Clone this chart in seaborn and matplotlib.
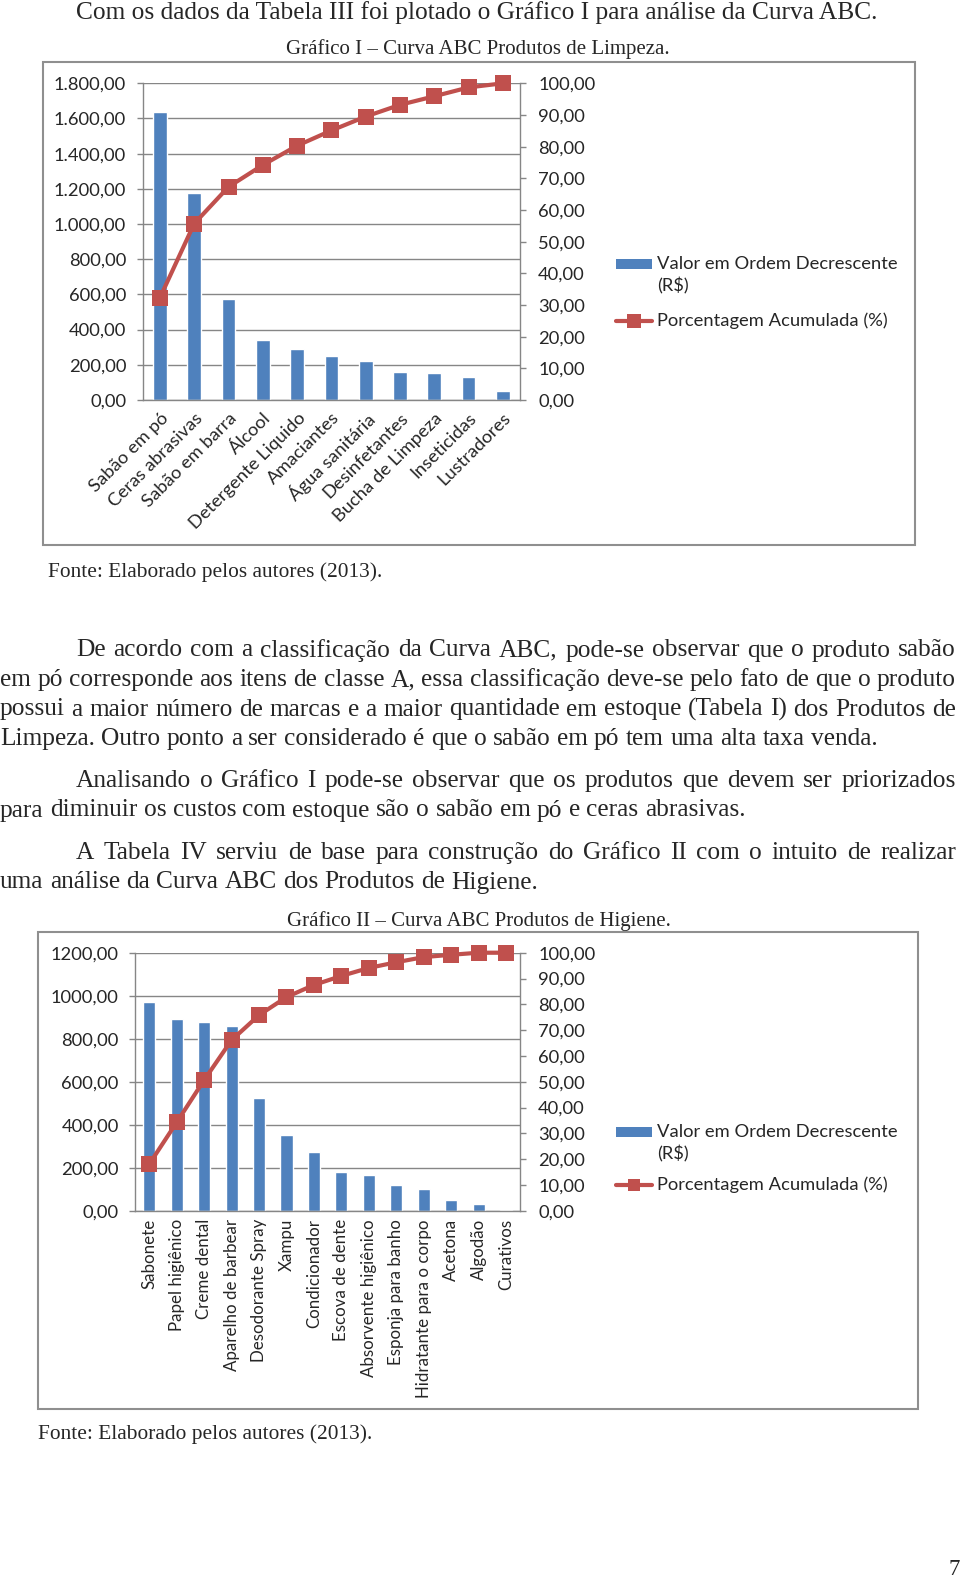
import numpy as np
import pandas as pd
import matplotlib
matplotlib.use("Agg")
import matplotlib.pyplot as plt
import seaborn as sns
from matplotlib.patches import Rectangle
from matplotlib.lines import Line2D

# ---------------- data ----------------
limpeza_produtos = ["Sabão em pó", "Ceras abrasivas", "Sabão em barra", "Álcool",
                    "Detergente Liquido", "Amaciantes", "Água sanitária", "Desinfetantes",
                    "Bucha de Limpeza", "Inseticidas", "Lustradores"]
limpeza_valor = [1635, 1178, 576, 339, 288, 250, 222, 157, 152, 129, 51]
limpeza_pct = [32.3, 55.7, 67.3, 74.2, 80.3, 85.1, 89.5, 93.2, 95.9, 98.7, 100.0]
limpeza_yticks = [0, 200, 400, 600, 800, 1000, 1200, 1400, 1600, 1800]
limpeza_yticklabels = ["0,00", "200,00", "400,00", "600,00", "800,00", "1.000,00",
                       "1.200,00", "1.400,00", "1.600,00", "1.800,00"]

higiene_produtos = ["Sabonete", "Papel higiênico", "Creme dental", "Aparelho de barbear",
                    "Desodorante Spray", "Xampu", "Condicionador", "Escova de dente",
                    "Absorvente higiênico", "Esponja para banho", "Hidratante para o corpo",
                    "Acetona", "Algodão", "Curativos"]
higiene_valor = [972, 891, 876, 859, 526, 353, 274, 181, 167, 121, 102, 51, 33, 4]
higiene_pct = [18.0, 34.2, 50.6, 66.1, 75.8, 82.8, 87.5, 91.0, 94.1, 96.3, 98.3, 99.2, 100.0, 100.0]
higiene_yticks = [0, 200, 400, 600, 800, 1000, 1200]
higiene_yticklabels = ["0,00", "200,00", "400,00", "600,00", "800,00", "1000,00", "1200,00"]

pct_ticks = [0, 10, 20, 30, 40, 50, 60, 70, 80, 90, 100]
pct_ticklabels = ["0,00", "10,00", "20,00", "30,00", "40,00", "50,00", "60,00",
                  "70,00", "80,00", "90,00", "100,00"]

legend_labels = ["Valor em Ordem Decrescente", "(R\\$)", "Porcentagem Acumulada (%)"]

intro_text = "Com os dados da Tabela III foi plotado o Gráfico I para análise da Curva ABC."
caption1 = "Gráfico I – Curva ABC Produtos de Limpeza."
caption2 = "Gráfico II – Curva ABC Produtos de Higiene."
fonte = "Fonte: Elaborado pelos autores (2013)."
paragraphs = [
    ["De acordo com a classificação da Curva ABC, pode-se observar que o produto sabão",
     "em pó corresponde aos itens de classe A, essa classificação deve-se pelo fato de que o produto",
     "possui a maior número de marcas e a maior quantidade em estoque (Tabela I) dos Produtos de",
     "Limpeza. Outro ponto a ser considerado é que o sabão em pó tem uma alta taxa venda."],
    ["Analisando o Gráfico I pode-se observar que os produtos que devem ser priorizados",
     "para diminuir os custos com estoque são o sabão em pó e ceras abrasivas."],
    ["A Tabela IV serviu de base para construção do Gráfico II com o intuito de realizar",
     "uma análise da Curva ABC dos Produtos de Higiene."],
]
page_number = "7"

# ---------------- style ----------------
sns.set_theme(style="white")
SERIF = ["Liberation Serif", "DejaVu Serif"]
SANS = ["Lato", "DejaVu Sans"]
plt.rcParams["font.family"] = SANS

BLUE = "#4F81BD"
RED = "#C0504D"
GRAY = "#868686"

W, H = 960, 1592
fig = plt.figure(figsize=(W / 100, H / 100), dpi=100)
fig.patch.set_facecolor("white")
renderer = fig.canvas.get_renderer()


def fx(px):
    return px / W


def fy(py):
    return 1 - py / H


def measure(s, family, size):
    t = fig.text(0, 0, s, fontsize=size, family=family)
    w = t.get_window_extent(renderer).width
    t.remove()
    return w


def fit_size(s, family, target_px):
    return 10 * target_px / measure(s, family, 10)


body_size = fit_size(intro_text, SERIF, 802)
cap_size = fit_size(caption1, SERIF, 383)
fonte_size = fit_size(fonte, SERIF, 332)
chart_size = fit_size(legend_labels[2], SANS, 230)

# ---------------- page text ----------------
fig.text(fx(76), fy(19), intro_text, fontsize=body_size, family=SERIF, va="baseline", ha="left")
fig.text(fx(478), fy(54), caption1, fontsize=cap_size, family=SERIF, va="baseline", ha="center")
fig.text(fx(48), fy(577), fonte, fontsize=fonte_size, family=SERIF, va="baseline", ha="left")
fig.text(fx(479), fy(926), caption2, fontsize=cap_size, family=SERIF, va="baseline", ha="center")
fig.text(fx(37.5), fy(1439), fonte, fontsize=fonte_size, family=SERIF, va="baseline", ha="left")
fig.text(fx(949), fy(1575), page_number, fontsize=body_size * 0.9, family=SERIF,
         va="baseline", ha="left")


def draw_line(line, base_y, x0, x1, justify):
    words = line.split(" ")
    texts = [fig.text(0, fy(base_y), w, fontsize=body_size, family=SERIF,
                      va="baseline", ha="left") for w in words]
    widths = [t.get_window_extent(renderer).width for t in texts]
    if justify and len(words) > 1:
        gap = (x1 - x0 - sum(widths)) / (len(words) - 1)
    else:
        gap = 0.25 * body_size / 0.72
    x = x0
    for t, w in zip(texts, widths):
        t.set_x(fx(x))
        x += w + gap


para_first_y = [656.5, 787, 859]
line_step = 29.5
for para, y0 in zip(paragraphs, para_first_y):
    for i, line in enumerate(para):
        x0 = 76 if i == 0 else 0
        draw_line(line, y0 + i * line_step, x0, 956, justify=(i < len(para) - 1))


# ---------------- charts ----------------
def frame(x0, y0, x1, y1):
    fig.patches.append(Rectangle((fx(x0), fy(y1)), fx(x1) - fx(x0), fy(y0) - fy(y1),
                                 transform=fig.transFigure, fill=False,
                                 edgecolor="#8f8f8f", lw=1.5))


def pareto(box, cats, vals, pct, yticks, yticklabels, rot, bar_w, ms, legend_y, xlab_size):
    x0, y0, x1, y1 = box
    ax = fig.add_axes([fx(x0), fy(y1), fx(x1) - fx(x0), fy(y0) - fy(y1)])
    n = len(cats)
    df = pd.DataFrame({"cat": cats, "val": vals, "pct": pct, "pos": np.arange(n)})
    sns.barplot(data=df, x="cat", y="val", ax=ax, color=BLUE, saturation=1, width=bar_w)
    ax2 = ax.twinx()
    sns.lineplot(data=df, x="pos", y="pct", ax=ax2, color=RED, lw=3, marker="s",
                 markersize=ms, markeredgewidth=0, legend=False, clip_on=False)

    ax.set_ylim(yticks[0], yticks[-1])
    ax2.set_ylim(0, 100)
    ax.set_xlim(-0.5, n - 0.5)
    ax.set_yticks(yticks)
    ax.set_yticklabels(yticklabels, fontsize=chart_size)
    ax2.set_yticks(pct_ticks)
    ax2.set_yticklabels(pct_ticklabels, fontsize=chart_size)
    ax.set_xticks(np.arange(n))
    if rot == 45:
        ax.set_xticklabels(cats, rotation=45, ha="right", va="top",
                           rotation_mode="anchor", fontsize=xlab_size)
    else:
        ax.set_xticklabels(cats, rotation=90, ha="center", va="top", fontsize=xlab_size)
    ax.set_xticks(np.arange(n + 1) - 0.5, minor=True)
    ax.tick_params(axis="x", which="major", length=0, pad=7 if rot == 45 else 6)
    ax.tick_params(axis="x", which="minor", length=4, width=1, color=GRAY, direction="out")
    ax.tick_params(axis="y", which="major", length=4, width=1, color=GRAY,
                   direction="out", pad=8, left=True)
    ax2.tick_params(axis="y", which="major", length=4, width=1, color=GRAY,
                    direction="out", pad=9, right=True)
    ax.set_xlabel("")
    ax.set_ylabel("")
    ax2.set_xlabel("")
    ax2.set_ylabel("")
    ax.yaxis.grid(True, color=GRAY, lw=1)
    ax.xaxis.grid(False)
    ax.set_axisbelow(True)
    for s in ["top", "right"]:
        ax.spines[s].set_visible(False)
    for s in ["left", "bottom"]:
        ax.spines[s].set_color(GRAY)
        ax.spines[s].set_linewidth(1)
    for s in ["top", "left", "bottom"]:
        ax2.spines[s].set_visible(False)
    ax2.spines["right"].set_color(GRAY)
    ax2.spines["right"].set_linewidth(1)

    # legend (drawn to match the spreadsheet layout)
    ly1, ly2, ly3 = legend_y
    fig.patches.append(Rectangle((fx(616), fy(ly1 + 5)), fx(652) - fx(616), fy(ly1 - 5) - fy(ly1 + 5),
                                 transform=fig.transFigure, facecolor=BLUE, edgecolor="none"))
    fig.lines.append(Line2D([fx(616), fx(652)], [fy(ly3), fy(ly3)], transform=fig.transFigure,
                            color=RED, lw=3))
    fig.lines.append(Line2D([fx(634)], [fy(ly3)], transform=fig.transFigure, color=RED,
                            marker="s", markersize=ms * 0.85, markeredgewidth=0, lw=0))
    for lab, ly in zip(legend_labels, [ly1, ly2, ly3]):
        fig.text(fx(657), fy(ly), lab, fontsize=chart_size, va="center", ha="left")
    return ax, ax2


frame(43, 62, 915, 545)
pareto((142.8, 83.3, 520, 400), limpeza_produtos, limpeza_valor, limpeza_pct,
       limpeza_yticks, limpeza_yticklabels, 45, 0.4, 12, (264, 286, 321), chart_size)

frame(38, 932, 918, 1409)
pareto((135.4, 952.7, 520, 1210.7), higiene_produtos, higiene_valor, higiene_pct,
       higiene_yticks, higiene_yticklabels, 90, 0.44, 11, (1132, 1154, 1185),
       chart_size * 0.92)

fig.savefig("out.png", dpi=100, facecolor="white")
